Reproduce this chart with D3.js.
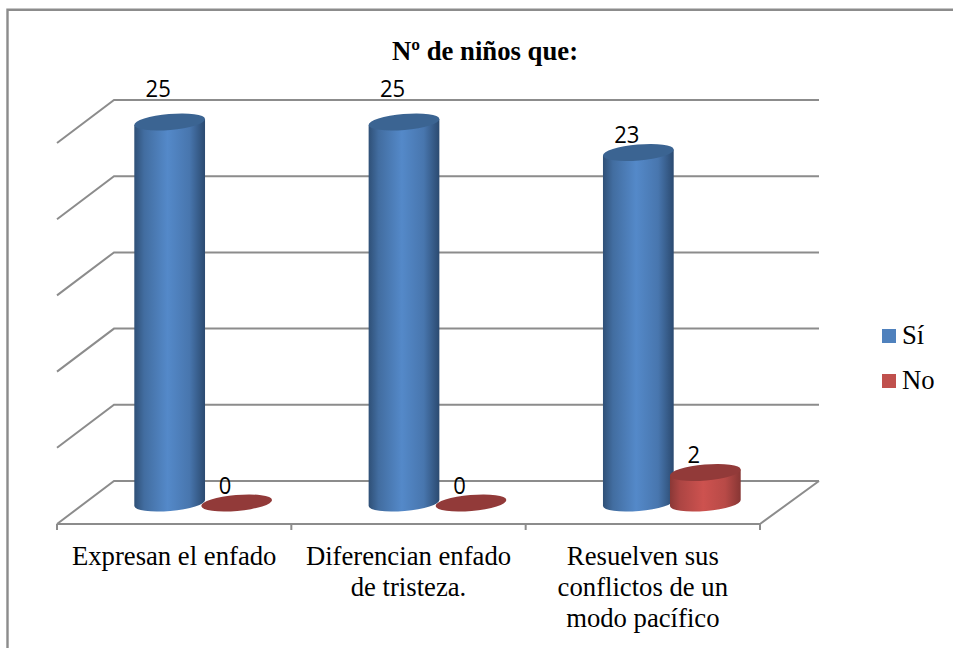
<!DOCTYPE html>
<html><head><meta charset="utf-8">
<script src="https://cdn.jsdelivr.net/npm/d3@7"></script>
<style>html,body{margin:0;padding:0;background:#fff}svg{display:block}</style>
</head><body><svg id="c" width="953" height="648"></svg>
<script>
const categories = [["Expresan el enfado"],["Diferencian enfado","de tristeza."],["Resuelven sus","conflictos de un","modo pacífico"]];
const series = ["Sí","No"];
const si = [25,25,23];
const no = [0,0,2];
const yTicks = [0,5,10,15,20,25];

const W=953,H=648, plotLeft=57, plotRight=760, floorBack=481, plotTop=100, depthX=57, depthY=43, barDepth=22;
const svg=d3.select("#c");
const catIdx=categories.map((d,i)=>i);
const x0=d3.scaleBand().domain(catIdx).range([plotLeft,plotRight]);
const x1=d3.scaleBand().domain(series).range([-67,67]);
const y=d3.scaleLinear().domain([0,25]).range([floorBack,plotTop]);
const cx=(i,s)=>x0(i)+x0.bandwidth()/2+depthX/2+0.5+x1(s)+x1.bandwidth()/2;
const colors={"Sí":{edge:"#2f5077",mid:"#5489c9",dark:"#2b4a70",top:"#3b6492",solid:"#4f81bd"},
              "No":{edge:"#8a3836",mid:"#cd524f",dark:"#873634",top:"#923a39",solid:"#c0504d"}};
const defs=svg.append("defs");
series.forEach((s,k)=>{
  const g=defs.append("linearGradient").attr("id","g"+k);
  [[0,colors[s].edge],[.14,d3.interpolateRgb(colors[s].edge,colors[s].mid)(.5)],[.47,colors[s].mid],[.78,d3.interpolateRgb(colors[s].mid,colors[s].dark)(.3)],[1,colors[s].dark]]
    .forEach(([o,c])=>g.append("stop").attr("offset",o).attr("stop-color",c));
});
const line="#8c8c8c";
// frame
svg.append("path").attr("d",`M7.5,${H+2}V9.8H${W+2}`).attr("fill","none").attr("stroke",line).attr("stroke-width",2.4);
// grid
const grid=svg.append("g").attr("fill","none").attr("stroke",line).attr("stroke-width",2);
grid.selectAll("path.g").data(yTicks).join("path").attr("class","g")
  .attr("d",d=>`M${plotLeft},${y(d)+depthY}L${plotLeft+depthX},${y(d)}H${plotRight+depthX+2}`);
grid.append("path").attr("d",`M${plotLeft},${floorBack+depthY}H${plotRight}L${plotRight+depthX+2},${floorBack}`);
grid.selectAll("path.t").data(d3.range(categories.length+1)).join("path").attr("class","t")
  .attr("d",i=>{const X=i<categories.length?x0(i):plotRight;return `M${X},${floorBack+depthY}v6`;});
// cylinders
const rx=35.5, ry=8, tilt=5*Math.PI/180, dx=rx*Math.cos(tilt), dy=rx*Math.sin(tilt), deg=-5;
const ell=(c,yy)=>`M${c-dx},${yy+dy}A${rx},${ry} ${deg} 1 1 ${c+dx},${yy-dy}A${rx},${ry} ${deg} 1 1 ${c-dx},${yy+dy}Z`;
const body=(c,yT,yB)=>`M${c-dx},${yT+dy}L${c-dx},${yB+dy}A${rx},${ry} ${deg} 0 0 ${c+dx},${yB-dy}L${c+dx},${yT-dy}Z`;
[si,no].forEach((vals,k)=>{
  const s=series[k];
  const g=svg.append("g");
  vals.forEach((v,i)=>{
    const c=cx(i,s), yB=y(0)+barDepth, yT=y(v)+barDepth;
    if(v>0) g.append("path").attr("d",body(c,yT,yB)).attr("fill",`url(#g${k})`);
    g.append("path").attr("d",ell(c,yT)).attr("fill",colors[s].top);
  });
});
// data labels
const fmtY=(v,yT)=>v===25?yT-25:yT-9.5;
[si,no].forEach((vals,k)=>{
  const s=series[k];
  vals.forEach((v,i)=>{
    const yT=y(v)+barDepth;
    svg.append("text").attr("x",cx(i,s)-11.5).attr("y",fmtY(v,yT)).attr("text-anchor","middle")
      .attr("font-family","'Open Sans'").attr("font-size",24).attr("fill","#000")
      .attr("textLength",String(v).length*12.6).attr("lengthAdjust","spacingAndGlyphs").text(v);
  });
});
// axis labels
const serif="'Liberation Serif'", fs=26.7;
categories.forEach((lines,i)=>{
  const t=svg.append("text").attr("text-anchor","middle").attr("font-family",serif).attr("font-size",fs).attr("fill","#000");
  lines.forEach((l,j)=>t.append("tspan").attr("x",x0(i)+x0.bandwidth()/2).attr("y",565+j*31).text(l));
});
// title
svg.append("text").attr("x",485).attr("y",60).attr("text-anchor","middle").attr("font-family",serif)
  .attr("font-weight","bold").attr("font-size",fs).text("Nº de niños que:");
// legend
series.forEach((s,k)=>{
  const yy=329+k*45;
  svg.append("rect").attr("x",882).attr("y",yy).attr("width",14).attr("height",14).attr("fill",colors[s].solid);
  svg.append("text").attr("x",902).attr("y",yy+15).attr("font-family",serif).attr("font-size",fs).text(s);
});
</script></body></html>
